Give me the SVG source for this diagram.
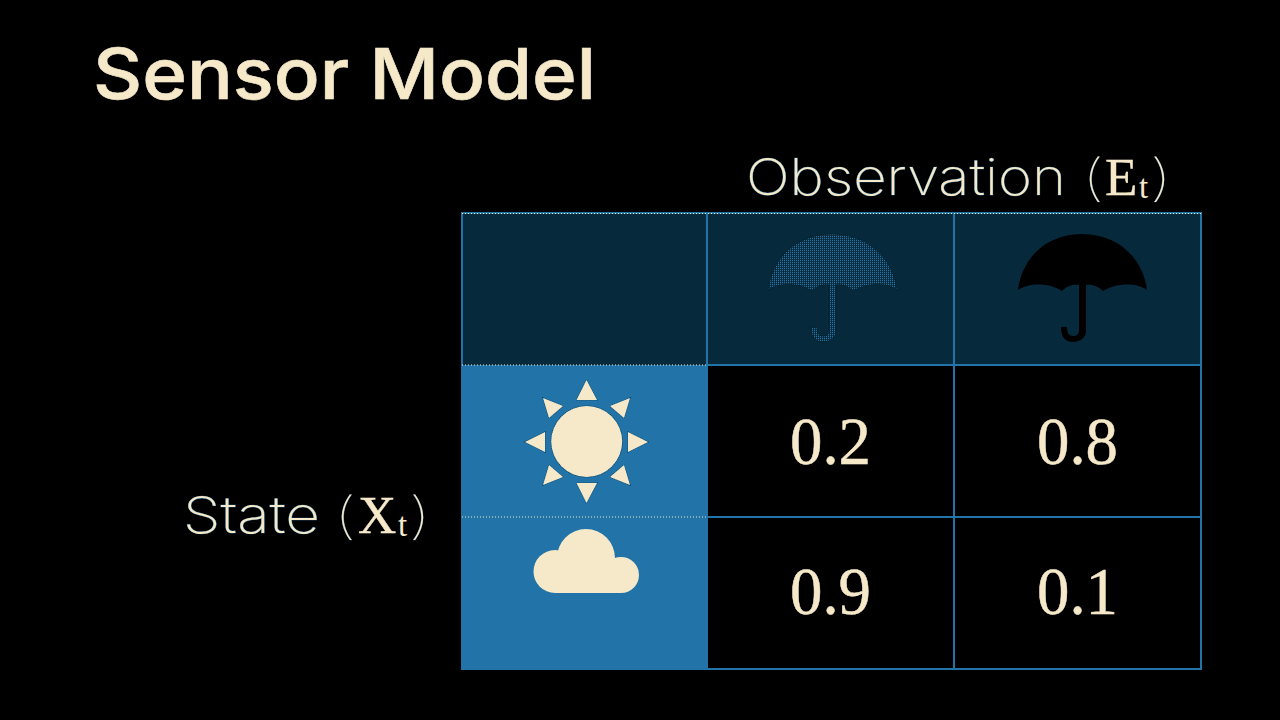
<svg xmlns="http://www.w3.org/2000/svg" width="1280" height="720" viewBox="0 0 1280 720">
<style>
.ln{fill:none;stroke:#2274a8;stroke-width:2}
.dot{fill:none;stroke:#f5e9c9;stroke-width:1;stroke-dasharray:1 2}
.cr{fill:#f5e9c9}
.lbl{font-family:Inter,"Open Sans",sans-serif;font-weight:200;font-size:50px;fill:#f5e9c9;stroke:#2274a8;stroke-width:.6;paint-order:stroke}
.par{font-weight:100;stroke-width:.3}
.ser{font-family:"Liberation Serif",serif;fill:#f5e9c9;stroke:#f5e9c9;stroke-width:.4}
.cap{font-size:53px}
.sub{font-size:33px;stroke-width:0}
.num{font-family:"Liberation Serif",serif;font-size:68px;fill:#f5e9c9;stroke:#f5e9c9;stroke-width:.5}
.ray{stroke:#0b3b57;stroke-width:1.2;stroke-dasharray:1 1;paint-order:stroke}
</style>
<defs>
<path id="umb" d="M768 290C772 258 796 234 832 234C868 234 893 258 897 290C888 283 868 282 853 291C847 285 840 284 836 285V331C836 338 830 342 823 342C815 342 811 337 811 327H817C817 333 819 336 823 336C827 336 829 334 829 330V285C824 284 818 285 812 291C798 282 778 283 768 290Z"/>
<pattern id="dither" width="2" height="2" patternUnits="userSpaceOnUse">
<rect width="2" height="2" fill="#062a3c"/>
<rect width="1" height="1.200" fill="#2274a8"/>
</pattern>
</defs>
<rect width="1280" height="720" fill="#000"/>
<text id="title" x="93" y="99" font-family="Inter,'Open Sans',sans-serif" font-weight="500" font-size="70" fill="#f5e9c9" stroke="#f5e9c9" stroke-width=".6" textLength="503" lengthAdjust="spacingAndGlyphs">Sensor Model</text>
<g id="header-observation">
<text class="lbl" x="746" y="195" textLength="320" lengthAdjust="spacingAndGlyphs">Observation</text>
<text class="lbl par" x="1081" y="195" textLength="24" lengthAdjust="spacingAndGlyphs">(</text>
<text class="ser cap" x="1105" y="195">E</text>
<text class="ser sub" x="1139" y="198">t</text>
<text class="lbl par" x="1149" y="195" textLength="24" lengthAdjust="spacingAndGlyphs">)</text>
</g>
<g id="header-state">
<text class="lbl" x="183" y="533" textLength="137" lengthAdjust="spacingAndGlyphs">State</text>
<text class="lbl par" x="333" y="533" textLength="24" lengthAdjust="spacingAndGlyphs">(</text>
<text class="ser cap" x="358" y="533">X</text>
<text class="ser sub" x="398" y="536">t</text>
<text class="lbl par" x="408" y="533" textLength="24" lengthAdjust="spacingAndGlyphs">)</text>
</g>
<g id="cells">
<rect x="462" y="213" width="739" height="152" fill="#062a3c"/>
<rect x="462" y="365" width="245" height="304" fill="#2274a8"/>
</g>
<g id="umbrella-open"><use href="#umb" fill="url(#dither)" stroke="#041e2b" stroke-width=".7"/></g>
<g id="umbrella-closed"><use href="#umb" x="250" fill="#000"/></g>
<g id="sun" class="cr">
<circle class="ray" cx="586.700" cy="441.500" r="35.500"/>
<path class="ray" d="M586.500 380L597 400H576.500Z"/>
<path class="ray" d="M586.500 503L597 483H576.500Z"/>
<path class="ray" d="M648 442L628 432V452Z"/>
<path class="ray" d="M525 442L545 432V452Z"/>
<path class="ray" d="M630 398L610 406L624 418Z"/>
<path class="ray" d="M543 398L563 406L549 418Z"/>
<path class="ray" d="M630 485L610 477L624 465Z"/>
<path class="ray" d="M543 485L563 477L549 465Z"/>
</g>
<g id="cloud" class="cr">
<circle cx="555" cy="571.500" r="21.500"/>
<circle cx="586" cy="558" r="29"/>
<circle cx="621" cy="575" r="18"/>
<rect x="555" y="562" width="66" height="31"/>
</g>
<g id="grid">
<rect class="ln" x="462" y="213" width="739" height="456"/>
<path class="ln" d="M707 213V669M954 213V669M707 365H1201M707 517H1201"/>
<path class="dot" d="M462 213.500H1201M462 365H707M462 517H707"/>
</g>
<g id="values">
<text class="num" x="790" y="464" textLength="81" lengthAdjust="spacingAndGlyphs">0.2</text>
<text class="num" x="1037" y="464" textLength="81" lengthAdjust="spacingAndGlyphs">0.8</text>
<text class="num" x="790" y="614" textLength="81" lengthAdjust="spacingAndGlyphs">0.9</text>
<text class="num" x="1037" y="614" textLength="81" lengthAdjust="spacingAndGlyphs">0.1</text>
</g>
</svg>
